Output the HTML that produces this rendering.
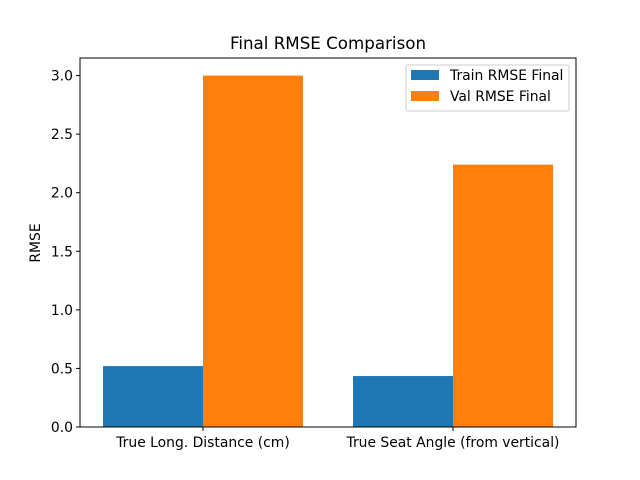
<!DOCTYPE html>
<html><head><meta charset="utf-8"><style>body{margin:0;background:#fff}svg{display:block;font-family:"DejaVu Sans","Liberation Sans",sans-serif}</style></head>
<body>
<svg id="chart" width="640" height="480" xmlns="http://www.w3.org/2000/svg">
<rect width="640" height="480" fill="#fff"/>
<text x="328" y="49" text-anchor="middle" font-size="16.7">Final RMSE Comparison</text>
<g id="bars"></g>
<g id="axes"></g>
<text transform="translate(40,243) rotate(-90)" text-anchor="middle" font-size="13.9">RMSE</text>
<g>
<rect x="406" y="65" width="163" height="46" fill="#fff" stroke="#ccc" rx="2"/>
<rect x="411" y="70" width="28" height="10" fill="#1f77b4"/>
<text x="450" y="80" font-size="13.9">Train RMSE Final</text>
<rect x="411" y="91" width="28" height="10" fill="#ff7f0e"/>
<text x="450" y="101" font-size="13.9">Val RMSE Final</text>
</g>
</svg>
<script>
const categories = ["True Long. Distance (cm)", "True Seat Angle (from vertical)"];
const trainValues = [0.52, 0.435];
const valValues = [3.0, 2.24];
const yTicks = [0, 0.5, 1.0, 1.5, 2.0, 2.5, 3.0];
const NS = "http://www.w3.org/2000/svg";
const L=80,R=576,T=58,B=427;
const yMax=3.15;
const y=v=>B-(v/yMax)*(B-T);
const x=i=>203+i*250;
const bw=100;
function mk(tag,attrs,parent){const e=document.createElementNS(NS,tag);for(const k in attrs)e.setAttribute(k,attrs[k]);parent.appendChild(e);return e;}
const bars=document.getElementById('bars'), axes=document.getElementById('axes');
categories.forEach((c,i)=>{
  const b1=mk('rect',{x:x(i)-bw,y:y(trainValues[i]),width:bw,height:B-y(trainValues[i]),fill:'#1f77b4'},bars);
  
  
  const b2=mk('rect',{x:x(i),y:y(valValues[i]),width:bw,height:B-y(valValues[i]),fill:'#ff7f0e'},bars);
  
  
  const tk=mk('line',{x1:x(i),x2:x(i),y1:B,y2:B+4,stroke:'#000'},axes);
  
  
  const t=mk('text',{x:x(i),y:B+20,'text-anchor':'middle','font-size':13.9},axes);
  
  
  t.textContent=c;
});
yTicks.forEach(v=>{
  const tk=mk('line',{x1:L-4,x2:L,y1:y(v),y2:y(v),stroke:'#000'},axes);
  
  
  const t=mk('text',{x:L-7,y:y(v)+5,'text-anchor':'end','font-size':13.9},axes);
  
  
  t.textContent=v.toFixed(1);
});
const fr=mk('rect',{x:L,y:T,width:R-L,height:B-T,fill:'none',stroke:'#000','stroke-width':1},axes);


</script>
</body></html>
